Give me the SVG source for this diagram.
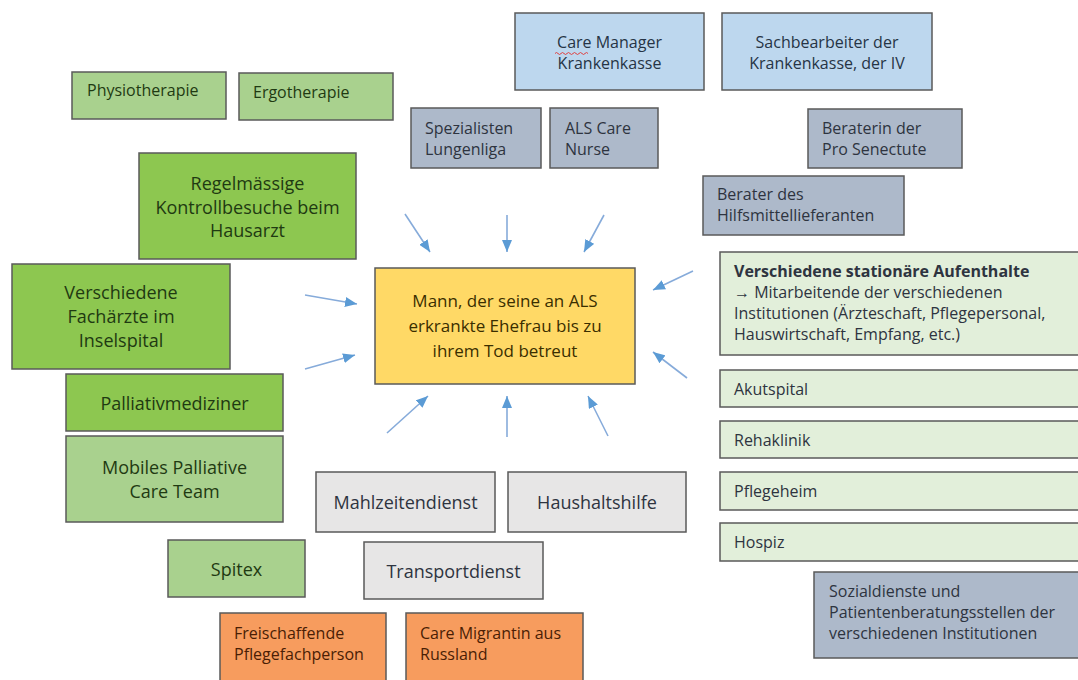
<svg xmlns="http://www.w3.org/2000/svg" width="1078" height="680" viewBox="0 0 1078 680">
<style>
  .box{stroke:#5a5a5a;stroke-width:1.5}
  .lb{fill:#BDD7EE}
  .gb{fill:#ADB9CA}
  .lg{fill:#A9D18E}
  .bg{fill:#8DC750}
  .vg{fill:#E2EFDA}
  .gr{fill:#E7E6E6}
  .or{fill:#F79C5E}
  .ye{fill:#FFD966}
  text{font-family:"Open Sans","Noto Sans","Liberation Sans",sans-serif;font-size:16px;fill:#2e3440}
  .big{font-size:18px}
  .mid{font-size:17px}
  .c{text-anchor:middle}
  .tg{fill:#1f3a12}
  .to{fill:#4a1e05}
  .ty{fill:#3a2e00}
  .tb{fill:#263445}
  .conn line{stroke:#86ABDA;stroke-width:1.6}
</style>
<defs>
  <marker id="ah" viewBox="0 0 12 10" refX="12" refY="5" markerWidth="12" markerHeight="10" markerUnits="userSpaceOnUse" orient="auto">
    <path d="M0,0 L12,5 L0,10 Z" fill="#5B9BD5"/>
  </marker>
</defs>
<rect width="1078" height="680" fill="#ffffff"/>

<g id="care-manager">
  <rect class="box lb" x="515" y="13" width="189" height="77"/>
  <text class="c tb" x="609.5" y="47.5">Care Manager</text>
  <text class="c tb" x="609.5" y="68.5">Krankenkasse</text>
  <path d="M555,53.5 q1.5,-2 3,0 t3,0 t3,0 t3,0 t3,0 t3,0 t3,0 t3,0 t3,0 t3,0 t3,0" fill="none" stroke="#e04040" stroke-width="1"/>
</g>
<g id="sachbearbeiter">
  <rect class="box lb" x="722" y="13" width="210" height="77"/>
  <text class="c tb" x="827" y="47.5">Sachbearbeiter der</text>
  <text class="c tb" x="827" y="68.5">Krankenkasse, der IV</text>
</g>
<g id="physiotherapie">
  <rect class="box lg" x="72" y="72" width="154" height="47"/>
  <text class="tg" x="87" y="95.5">Physiotherapie</text>
</g>
<g id="ergotherapie">
  <rect class="box lg" x="239" y="73" width="154" height="47"/>
  <text class="tg" x="253" y="97.5">Ergotherapie</text>
</g>
<g id="spezialisten">
  <rect class="box gb" x="411" y="108" width="130" height="60"/>
  <text x="425" y="133.5">Spezialisten</text>
  <text x="425" y="154.5">Lungenliga</text>
</g>
<g id="als-nurse">
  <rect class="box gb" x="550" y="108" width="108" height="60"/>
  <text x="565" y="133.5">ALS Care</text>
  <text x="565" y="154.5">Nurse</text>
</g>
<g id="beraterin">
  <rect class="box gb" x="808" y="109" width="154" height="59"/>
  <text x="822" y="133.5">Beraterin der</text>
  <text x="822" y="154.5">Pro Senectute</text>
</g>
<g id="berater">
  <rect class="box gb" x="703" y="176" width="201" height="59"/>
  <text x="717" y="199.5">Berater des</text>
  <text x="717" y="220.5">Hilfsmittellieferanten</text>
</g>
<g id="hausarzt">
  <rect class="box bg" x="139" y="153" width="217" height="106"/>
  <text class="c big tg" x="247.5" y="190">Regelmässige</text>
  <text class="c big tg" x="247.5" y="213.5">Kontrollbesuche beim</text>
  <text class="c big tg" x="247.5" y="236.5">Hausarzt</text>
</g>
<g id="fachaerzte">
  <rect class="box bg" x="12" y="264" width="218" height="105"/>
  <text class="c big tg" x="121" y="299">Verschiedene</text>
  <text class="c big tg" x="121" y="322.5">Fachärzte im</text>
  <text class="c big tg" x="121" y="346.5">Inselspital</text>
</g>
<g id="palliativmediziner">
  <rect class="box bg" x="66" y="374" width="217" height="57"/>
  <text class="c big tg" x="174.5" y="409.5">Palliativmediziner</text>
</g>
<g id="mobiles-team">
  <rect class="box lg" x="66" y="436" width="217" height="86"/>
  <text class="c big tg" x="174.5" y="474">Mobiles Palliative</text>
  <text class="c big tg" x="174.5" y="497.5">Care Team</text>
</g>
<g id="spitex">
  <rect class="box lg" x="168" y="540" width="137" height="57"/>
  <text class="c big tg" x="236.5" y="575.5">Spitex</text>
</g>
<g id="mahlzeitendienst">
  <rect class="box gr" x="316" y="472" width="179" height="60"/>
  <text class="c big" x="405.5" y="508.5">Mahlzeitendienst</text>
</g>
<g id="haushaltshilfe">
  <rect class="box gr" x="508" y="472" width="178" height="60"/>
  <text class="c big" x="597" y="508.5">Haushaltshilfe</text>
</g>
<g id="transportdienst">
  <rect class="box gr" x="364" y="542" width="179" height="57"/>
  <text class="c big" x="453.5" y="577.5">Transportdienst</text>
</g>
<g id="freischaffende">
  <rect class="box or" x="220" y="613" width="166" height="72"/>
  <text class="to" x="234" y="638.5">Freischaffende</text>
  <text class="to" x="234" y="659.5">Pflegefachperson</text>
</g>
<g id="care-migrantin">
  <rect class="box or" x="406" y="613" width="177" height="72"/>
  <text class="to" x="420" y="638.5">Care Migrantin aus</text>
  <text class="to" x="420" y="659.5">Russland</text>
</g>
<g id="center">
  <rect class="box ye" x="375" y="268" width="260" height="116"/>
  <text class="c mid ty" x="505" y="307">Mann, der seine an ALS</text>
  <text class="c mid ty" x="505" y="332">erkrankte Ehefrau bis zu</text>
  <text class="c mid ty" x="505" y="357">ihrem Tod betreut</text>
</g>
<g id="stationaer">
  <rect class="box vg" x="720" y="252" width="370" height="103"/>
  <text x="734" y="276.5" font-weight="bold" fill="#1a1a1a">Verschiedene stationäre Aufenthalte</text>
  <text x="734" y="297.5"><tspan font-weight="bold">→</tspan> Mitarbeitende der verschiedenen</text>
  <text x="734" y="318.5">Institutionen (Ärzteschaft, Pflegepersonal,</text>
  <text x="734" y="339.5">Hauswirtschaft, Empfang, etc.)</text>
</g>
<g id="akutspital">
  <rect class="box vg" x="720" y="370" width="370" height="37"/>
  <text x="734" y="394.5">Akutspital</text>
</g>
<g id="rehaklinik">
  <rect class="box vg" x="720" y="421" width="370" height="37"/>
  <text x="734" y="445.5">Rehaklinik</text>
</g>
<g id="pflegeheim">
  <rect class="box vg" x="720" y="472" width="370" height="38"/>
  <text x="734" y="496.5">Pflegeheim</text>
</g>
<g id="hospiz">
  <rect class="box vg" x="720" y="523" width="370" height="38"/>
  <text x="734" y="547.5">Hospiz</text>
</g>
<g id="sozialdienste">
  <rect class="box gb" x="814" y="572" width="270" height="86"/>
  <text x="829" y="596.5">Sozialdienste und</text>
  <text x="829" y="617.5">Patientenberatungsstellen der</text>
  <text x="829" y="638.5">verschiedenen Institutionen</text>
</g>

<g id="connectors" class="conn">
  <line x1="405" y1="214" x2="430" y2="252" marker-end="url(#ah)"/>
  <line x1="507" y1="215" x2="507" y2="252" marker-end="url(#ah)"/>
  <line x1="604" y1="215" x2="584" y2="252" marker-end="url(#ah)"/>
  <line x1="693" y1="271" x2="653" y2="290" marker-end="url(#ah)"/>
  <line x1="305" y1="295" x2="357" y2="304" marker-end="url(#ah)"/>
  <line x1="305" y1="369" x2="355" y2="355" marker-end="url(#ah)"/>
  <line x1="387" y1="433" x2="428" y2="396" marker-end="url(#ah)"/>
  <line x1="507" y1="437" x2="507" y2="396" marker-end="url(#ah)"/>
  <line x1="608" y1="436" x2="588" y2="396" marker-end="url(#ah)"/>
  <line x1="687" y1="378" x2="653" y2="352" marker-end="url(#ah)"/>
</g>
</svg>
